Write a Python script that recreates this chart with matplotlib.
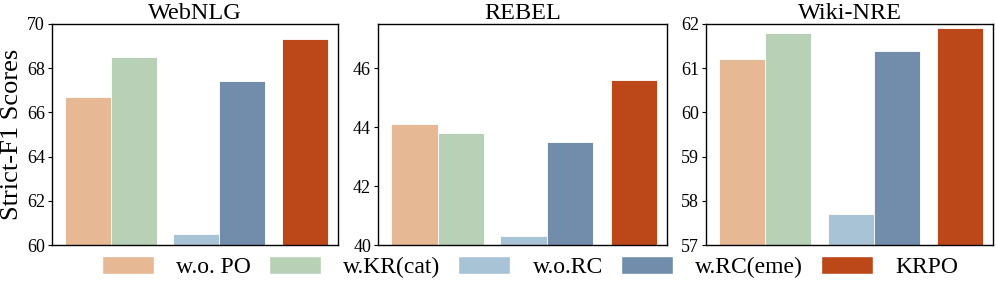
import matplotlib
matplotlib.use("Agg")
import matplotlib.pyplot as plt
from matplotlib.patches import Patch

datasets = ["WebNLG", "REBEL", "Wiki-NRE"]
methods = ["w.o. PO", "w.KR(cat)", "w.o.RC", "w.RC(eme)", "KRPO"]
webnlg = [66.7, 68.5, 60.5, 67.4, 69.3]
rebel = [44.1, 43.8, 40.3, 43.5, 45.6]
wikinre = [61.2, 61.8, 57.7, 61.4, 61.9]
ylims = [(60, 70), (40, 47.5), (57, 62)]
yticks = [[60, 62, 64, 66, 68, 70], [40, 42, 44, 46], [57, 58, 59, 60, 61, 62]]
colors = ["#E6B894", "#B8D0B6", "#A8C2D6", "#728CAB", "#BC4718"]
positions = [0, 1, 2.35, 3.35, 4.72]

plt.rcParams['font.family'] = ['Liberation Serif', 'DejaVu Serif']
fig = plt.figure(figsize=(9.96, 2.81), dpi=100)
W, H = 996, 281
axes_px = [(52, 338), (378, 667), (706, 993)]
top, bottom = 24, 245
for i, (vals, name) in enumerate(zip([webnlg, rebel, wikinre], datasets)):
    l, r = axes_px[i]
    ax = fig.add_axes([l / W, 1 - bottom / H, (r - l) / W, (bottom - top) / H])
    ax.bar(positions, vals, width=1.0, color=colors, edgecolor="white", linewidth=0.6)
    ax.set_ylim(*ylims[i])
    ax.set_yticks(yticks[i])
    ax.set_xlim(-0.78, 5.43)
    ax.set_xticks([])
    ax.set_title(name, fontsize=17.5, pad=2)
    ax.tick_params(axis='y', labelsize=13, direction='out', length=3, pad=2)
    for s in ax.spines.values():
        s.set_linewidth(1.0)
    if i == 0:
        ax.set_ylabel("Strict-F1 Scores", fontsize=19, labelpad=3)

handles = [Patch(facecolor=c, edgecolor="white") for c in colors]
fig.legend(handles, methods, loc="center", bbox_to_anchor=(530 / W, 1 - 267 / H),
           ncol=5, frameon=False, fontsize=17, handlelength=2.2, handleheight=0.8,
           columnspacing=0.75, handletextpad=0.95, borderpad=0)
fig.savefig("out.png", dpi=100)
